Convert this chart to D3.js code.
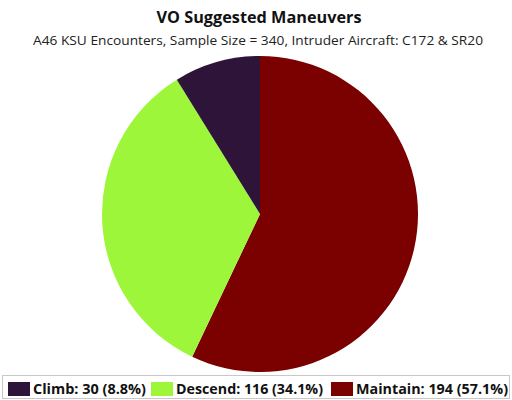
<!DOCTYPE html>
<html><head><meta charset="utf-8">
<script src="https://cdn.jsdelivr.net/npm/d3@7"></script>
<style>body{margin:0;background:#fff}svg{display:block}</style>
</head><body>
<svg id="c" width="512" height="400"></svg>
<script>
const categories = ["Climb", "Descend", "Maintain"];
const values = [30, 116, 194];
const percents = ["8.8%", "34.1%", "57.1%"];
const colors = ["#2f1439", "#9ef63a", "#7b0000"];
const title = "VO Suggested Maneuvers";
const subtitle = "A46 KSU Encounters, Sample Size = 340, Intruder Aircraft: C172 & SR20";

const svg = d3.select("#c");
const font = "'Open Sans', sans-serif";

svg.append("text").attr("x", 259).attr("y", 23).attr("text-anchor", "middle")
  .attr("font-family", font).attr("font-weight", "bold").attr("font-size", 15.5)
  .attr("textLength", 205).attr("lengthAdjust", "spacingAndGlyphs")
  .attr("fill", "#111").text(title);
svg.append("text").attr("x", 258).attr("y", 45).attr("text-anchor", "middle")
  .attr("font-family", font).attr("font-size", 12.5)
  .attr("textLength", 450).attr("lengthAdjust", "spacingAndGlyphs")
  .attr("fill", "#222").text(subtitle);

const data = categories.map((c, i) => ({cat: c, value: values[i], color: colors[i], pct: percents[i]}));
// drawn clockwise from 12 o'clock: Maintain, Descend, Climb
const pie = d3.pie().sort(null).value(d => d.value);
const arcs = pie(data.slice().reverse());
const arc = d3.arc().innerRadius(0).outerRadius(158);
const g = svg.append("g").attr("transform", "translate(260,214)");
g.selectAll("path").data(arcs).join("path")
  .attr("d", arc).attr("fill", d => d.data.color);

// legend
svg.append("rect").attr("x", 2.5).attr("y", 375.5).attr("width", 507).attr("height", 23)
  .attr("fill", "#fff").attr("stroke", "#c8c8c8").attr("stroke-width", 1);
const legX = [8, 151, 331];
const legW = [113, 147, 152];
const lg = svg.append("g");
data.forEach((d, i) => {
  lg.append("rect").attr("x", legX[i]).attr("y", 382).attr("width", 22).attr("height", 14)
    .attr("fill", d.color);
  lg.append("text").attr("x", legX[i] + 25).attr("y", 394)
    .attr("font-family", font).attr("font-weight", "bold").attr("font-size", 13.5)
    .attr("textLength", legW[i]).attr("lengthAdjust", "spacingAndGlyphs")
    .attr("fill", "#111").text(`${d.cat}: ${d.value} (${d.pct})`);
});
</script>
</body></html>
